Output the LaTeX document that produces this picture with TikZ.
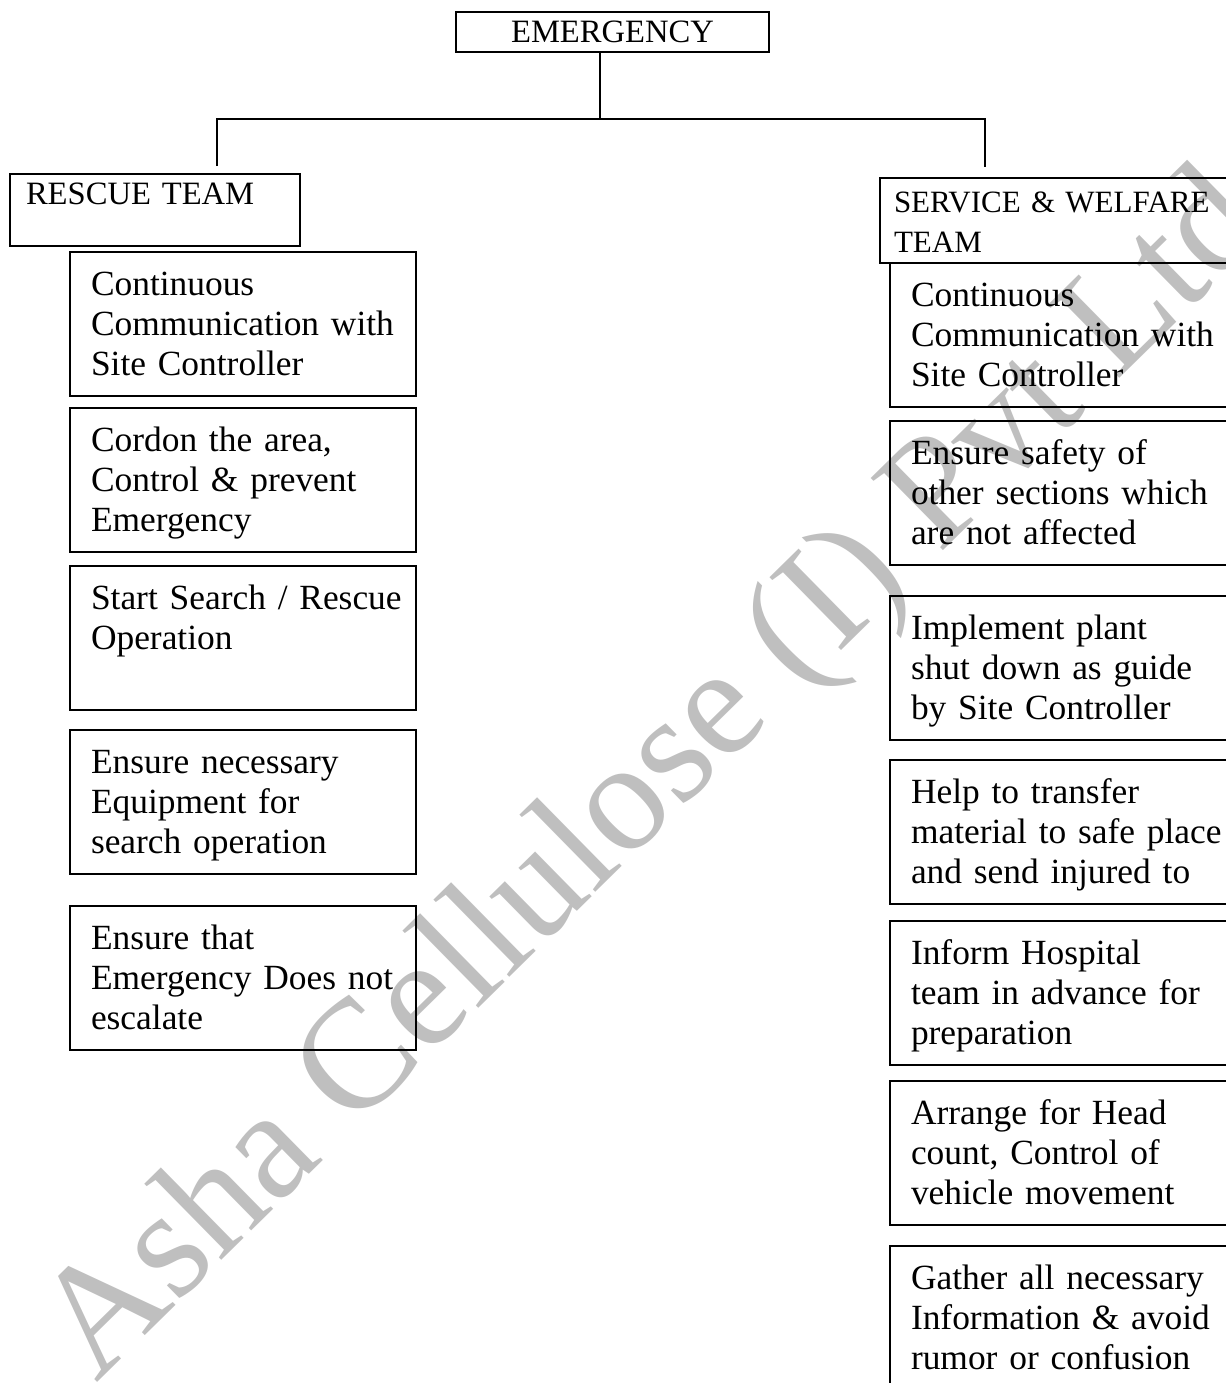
\documentclass[tikz,border=0pt]{standalone}
\usepackage{fontspec}
\setmainfont{Liberation Serif}
\begin{document}
\begin{tikzpicture}[x=0.5pt,y=-0.5pt,
  conn/.style={draw, line width=0.8pt},
  bodyfont/.style={font=\fontsize{17.7}{20}\selectfont},
  taskbox/.style={draw, line width=1pt, anchor=north west, align=left,
    inner xsep=10.5pt, inner ysep=7.5pt, text height=14pt, text depth=43pt, bodyfont},
  lbox/.style={taskbox, text width=152pt},
  rbox/.style={taskbox, text width=165pt},
  wmark/.style={text=black!25, font=\fontsize{78}{90}\selectfont, inner sep=0pt}]
\useasboundingbox (0,0) rectangle (1226,1383);
\clip (0,0) rectangle (1226,1383);
% watermark
\node[wmark, rotate=44.5, anchor=base west] (wm) at (96,1384) {Asha Cellulose (I) Pvt Ltd};
% top
\node[draw, line width=1pt, minimum width=156.5pt, minimum height=20pt, inner sep=0pt,
  font=\fontsize{16.3}{18}\selectfont] (em) at (612.5,32) {EMERGENCY};
\node[draw, line width=1pt, anchor=north west, align=left, inner xsep=8pt, inner ysep=3pt,
  text width=129pt, text height=12pt, text depth=18pt, font=\fontsize{16.3}{20}\selectfont]
  (rescue) at (9,173) {RESCUE TEAM};
\node[draw, line width=1pt, anchor=north west, align=left, inner xsep=7pt, inner ysep=3pt,
  text width=170pt, text height=14pt, text depth=22.5pt, font=\fontsize{15.5}{20}\selectfont]
  (service) at (879,177) {SERVICE \& WELFARE\\TEAM};
\coordinate (jn) at (600,119);
\coordinate (rl) at (217,166);
\coordinate (rr) at (985,167);
\draw[conn] (em.south -| jn) -- (jn);
\draw[conn] (rl) -- (rl |- jn) -- (rr |- jn) -- (rr);
% left column
\node[lbox] (l1) at (69,251) {Continuous\\Communication with\\Site Controller};
\node[lbox] (l2) at (69,407) {Cordon the area,\\Control \& prevent\\Emergency};
\node[lbox] (l3) at (69,565) {\mbox{Start Search / Rescue}\\Operation};
\node[lbox] (l4) at (69,729) {Ensure necessary\\Equipment for\\search operation};
\node[lbox] (l5) at (69,905) {Ensure that\\\mbox{Emergency Does not}\\escalate};
% right column
\node[rbox] (r1) at (889,262) {Continuous\\Communication with\\Site Controller};
\node[rbox] (r2) at (889,420) {Ensure safety of\\other sections which\\are not affected};
\node[rbox] (r3) at (889,595) {Implement plant\\shut down as guide\\by Site Controller};
\node[rbox] (r4) at (889,759) {Help to transfer\\material to safe place\\and send injured to};
\node[rbox] (r5) at (889,920) {Inform Hospital\\team in advance for\\preparation};
\node[rbox] (r6) at (889,1080) {Arrange for Head\\count, Control of\\vehicle movement};
\node[rbox] (r7) at (889,1245) {Gather all necessary\\Information \& avoid\\rumor or confusion};
\end{tikzpicture}
\end{document}
